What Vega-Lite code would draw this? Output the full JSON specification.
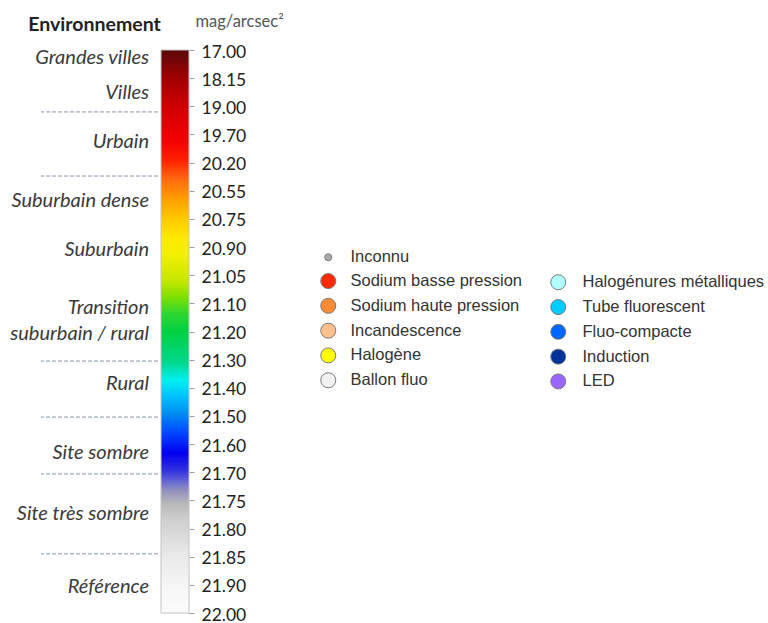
{
  "$schema": "https://vega.github.io/schema/vega-lite/v6.json",
  "background": "white",
  "padding": {"left": 10, "top": 13, "right": 0, "bottom": 0},
  "bounds": "flush",
  "spacing": 3,
  "config": {"view": {"stroke": null}, "font": "Lato"},
  "datasets": {
    "environnements": [
      {"environnement": "Grandes villes", "position": 17.33},
      {"environnement": "Villes", "position": 18.6},
      {"environnement": "Urbain", "position": 19.834},
      {"environnement": "Suburbain dense", "position": 20.62},
      {"environnement": "Suburbain", "position": 20.916},
      {"environnement": "Transition\nsuburbain / rural", "position": 21.1165},
      {"environnement": "Rural", "position": 21.387},
      {"environnement": "Site sombre", "position": 21.632},
      {"environnement": "Site très sombre", "position": 21.774},
      {"environnement": "Référence", "position": 21.908}
    ],
    "limites": [
      {"limite": 19.14},
      {"limite": 20.367},
      {"limite": 21.305},
      {"limite": 21.504},
      {"limite": 21.703},
      {"limite": 21.845}
    ],
    "echelle": [{"mag_min": 17, "mag_max": 22}],
    "lampes": [
      {"lampe": "Inconnu", "groupe": "A"},
      {"lampe": "Sodium basse pression", "groupe": "A"},
      {"lampe": "Sodium haute pression", "groupe": "A"},
      {"lampe": "Incandescence", "groupe": "A"},
      {"lampe": "Halogène", "groupe": "A"},
      {"lampe": "Ballon fluo", "groupe": "A"},
      {"lampe": "Halogénures métalliques", "groupe": "B"},
      {"lampe": "Tube fluorescent", "groupe": "B"},
      {"lampe": "Fluo-compacte", "groupe": "B"},
      {"lampe": "Induction", "groupe": "B"},
      {"lampe": "LED", "groupe": "B"}
    ]
  },
  "hconcat": [
    {
      "width": 117,
      "height": 563,
      "title": {"text": "Environnement", "anchor": "middle", "dx": -5, "offset": -2, "baseline": "alphabetic", "font": "Lato", "fontSize": 19.5, "fontWeight": "bold", "color": "#222222"},
      "layer": [
        {
          "data": {"name": "limites"},
          "mark": {"type": "rule", "stroke": "#8797aa", "strokeDash": [4, 2], "strokeWidth": 1},
          "encoding": {
            "y": {"field": "limite", "type": "quantitative", "axis": null,
              "scale": {"type": "linear", "zero": false, "nice": false,
                "domain": [17, 18.15, 19, 19.7, 20.2, 20.55, 20.75, 20.9, 21.05, 21.1, 21.2, 21.3, 21.4, 21.5, 21.6, 21.7, 21.75, 21.8, 21.85, 21.9, 22],
                "range": [0, 28.15, 56.3, 84.45, 112.6, 140.75, 168.9, 197.05, 225.2, 253.35, 281.5, 309.65, 337.8, 365.95, 394.1, 422.25, 450.4, 478.55, 506.7, 534.85, 563]}}
          }
        },
        {
          "data": {"name": "environnements"},
          "mark": {"type": "text", "x": "width", "dx": -9, "align": "right", "baseline": "middle", "font": "Lato", "fontStyle": "italic", "fontSize": 20, "color": "#3a3a3a", "lineBreak": "\n", "lineHeight": 26},
          "encoding": {
            "y": {"field": "position", "type": "quantitative", "axis": null},
            "text": {"field": "environnement", "type": "nominal"}
          }
        }
      ]
    },
    {
      "width": 28,
      "height": 563,
      "title": {"text": "mag/arcsec²", "anchor": "start", "dx": 35, "offset": 0, "baseline": "alphabetic", "font": "Lato", "fontSize": 16.5, "fontWeight": "normal", "color": "#555555"},
      "layer": [
        {
          "data": {"name": "echelle"},
          "mark": {
            "type": "rect",
            "stroke": "#c4c4c4",
            "strokeWidth": 1,
            "fill": {
              "gradient": "linear", "x1": 0, "y1": 0, "x2": 0, "y2": 1,
              "stops": [
                {"offset": 0, "color": "#5a0808"},
                {"offset": 0.05, "color": "#a00000"},
                {"offset": 0.1, "color": "#d00000"},
                {"offset": 0.16, "color": "#f20000"},
                {"offset": 0.195, "color": "#ff2000"},
                {"offset": 0.23, "color": "#ff6a10"},
                {"offset": 0.266, "color": "#ffa000"},
                {"offset": 0.302, "color": "#ffcc00"},
                {"offset": 0.332, "color": "#ffe800"},
                {"offset": 0.36, "color": "#f5f000"},
                {"offset": 0.408, "color": "#c8e800"},
                {"offset": 0.438, "color": "#80e000"},
                {"offset": 0.467, "color": "#30d830"},
                {"offset": 0.5, "color": "#00d040"},
                {"offset": 0.556, "color": "#00d890"},
                {"offset": 0.586, "color": "#00f0f0"},
                {"offset": 0.616, "color": "#00c0ff"},
                {"offset": 0.644, "color": "#0090f0"},
                {"offset": 0.675, "color": "#0050ff"},
                {"offset": 0.716, "color": "#0000f0"},
                {"offset": 0.746, "color": "#3030e0"},
                {"offset": 0.764, "color": "#6060d8"},
                {"offset": 0.782, "color": "#9090c0"},
                {"offset": 0.806, "color": "#b8b8b8"},
                {"offset": 0.835, "color": "#cfcfcf"},
                {"offset": 0.893, "color": "#e8e8e8"},
                {"offset": 0.954, "color": "#f6f6f6"},
                {"offset": 1, "color": "#fcfcfc"}
              ]
            }
          },
          "encoding": {
            "y": {"field": "mag_min", "type": "quantitative",
              "scale": {"type": "linear", "zero": false, "nice": false,
                "domain": [17, 18.15, 19, 19.7, 20.2, 20.55, 20.75, 20.9, 21.05, 21.1, 21.2, 21.3, 21.4, 21.5, 21.6, 21.7, 21.75, 21.8, 21.85, 21.9, 22],
                "range": [0, 28.15, 56.3, 84.45, 112.6, 140.75, 168.9, 197.05, 225.2, 253.35, 281.5, 309.65, 337.8, 365.95, 394.1, 422.25, 450.4, 478.55, 506.7, 534.85, 563]},
              "axis": {"orient": "right", "title": null, "values": [17, 18.15, 19, 19.7, 20.2, 20.55, 20.75, 20.9, 21.05, 21.1, 21.2, 21.3, 21.4, 21.5, 21.6, 21.7, 21.75, 21.8, 21.85, 21.9, 22],
                "format": ".2f", "domain": false, "grid": false, "tickSize": 5, "tickColor": "#9a9a9a", "tickWidth": 1,
                "labelFont": "Lato", "labelFontSize": 17.5, "labelColor": "#222222", "labelPadding": 7, "labelOffset": 2,
                "labelBaseline": "middle", "labelFlush": false, "labelOverlap": false, "labelBound": false}},
            "y2": {"field": "mag_max"}
          }
        },
        {
          "data": {"name": "lampes"},
          "transform": [{"filter": "datum.groupe === 'A'"}],
          "mark": {"type": "point", "shape": "circle", "filled": true, "opacity": 0, "stroke": "#7a7a7a", "strokeWidth": 1},
          "encoding": {
            "fill": {"field": "lampe", "type": "nominal",
              "scale": {"domain": ["Inconnu", "Sodium basse pression", "Sodium haute pression", "Incandescence", "Halogène", "Ballon fluo"],
                "range": ["#a8a8a8", "#ff2a00", "#ff8c33", "#ffc08c", "#ffff00", "#f2f2f2"]},
              "legend": {"orient": "none", "legendX": 159, "legendY": 199, "title": null, "padding": 0,
                "symbolType": "circle", "symbolSize": 225, "symbolOpacity": 1, "symbolStrokeColor": "#7a7a7a", "symbolStrokeWidth": 1,
                "labelFont": "Liberation Sans", "labelFontSize": 16.5, "labelColor": "#333333", "labelOffset": 14, "labelLimit": 0, "rowPadding": 4.8,
                "encode": {"symbols": {"update": {"size": {"signal": "datum.value === 'Inconnu' ? 49 : 225"}, "opacity": {"value": 1}, "stroke": {"value": "#7a7a7a"}, "strokeWidth": {"value": 1}}}}}}
          }
        },
        {
          "data": {"name": "lampes"},
          "transform": [{"filter": "datum.groupe === 'B'"}],
          "mark": {"type": "point", "shape": "circle", "filled": true, "opacity": 0, "stroke": "#7a7a7a", "strokeWidth": 1},
          "encoding": {
            "fill": {"field": "lampe", "type": "nominal",
              "scale": {"domain": ["Halogénures métalliques", "Tube fluorescent", "Fluo-compacte", "Induction", "LED"],
                "range": ["#b0ffff", "#00ccff", "#0066ff", "#003399", "#9966ff"]},
              "legend": {"orient": "none", "legendX": 389, "legendY": 224, "title": null, "padding": 0,
                "symbolType": "circle", "symbolSize": 225, "symbolOpacity": 1, "symbolStrokeColor": "#7a7a7a", "symbolStrokeWidth": 1,
                "labelFont": "Liberation Sans", "labelFontSize": 16.5, "labelColor": "#333333", "labelOffset": 16, "labelLimit": 0, "rowPadding": 4.8,
                "encode": {"symbols": {"update": {"opacity": {"value": 1}, "stroke": {"value": "#7a7a7a"}, "strokeWidth": {"value": 1}}}}}}
          }
        }
      ],
      "resolve": {"scale": {"fill": "independent"}, "legend": {"fill": "independent"}}
    }
  ]
}
